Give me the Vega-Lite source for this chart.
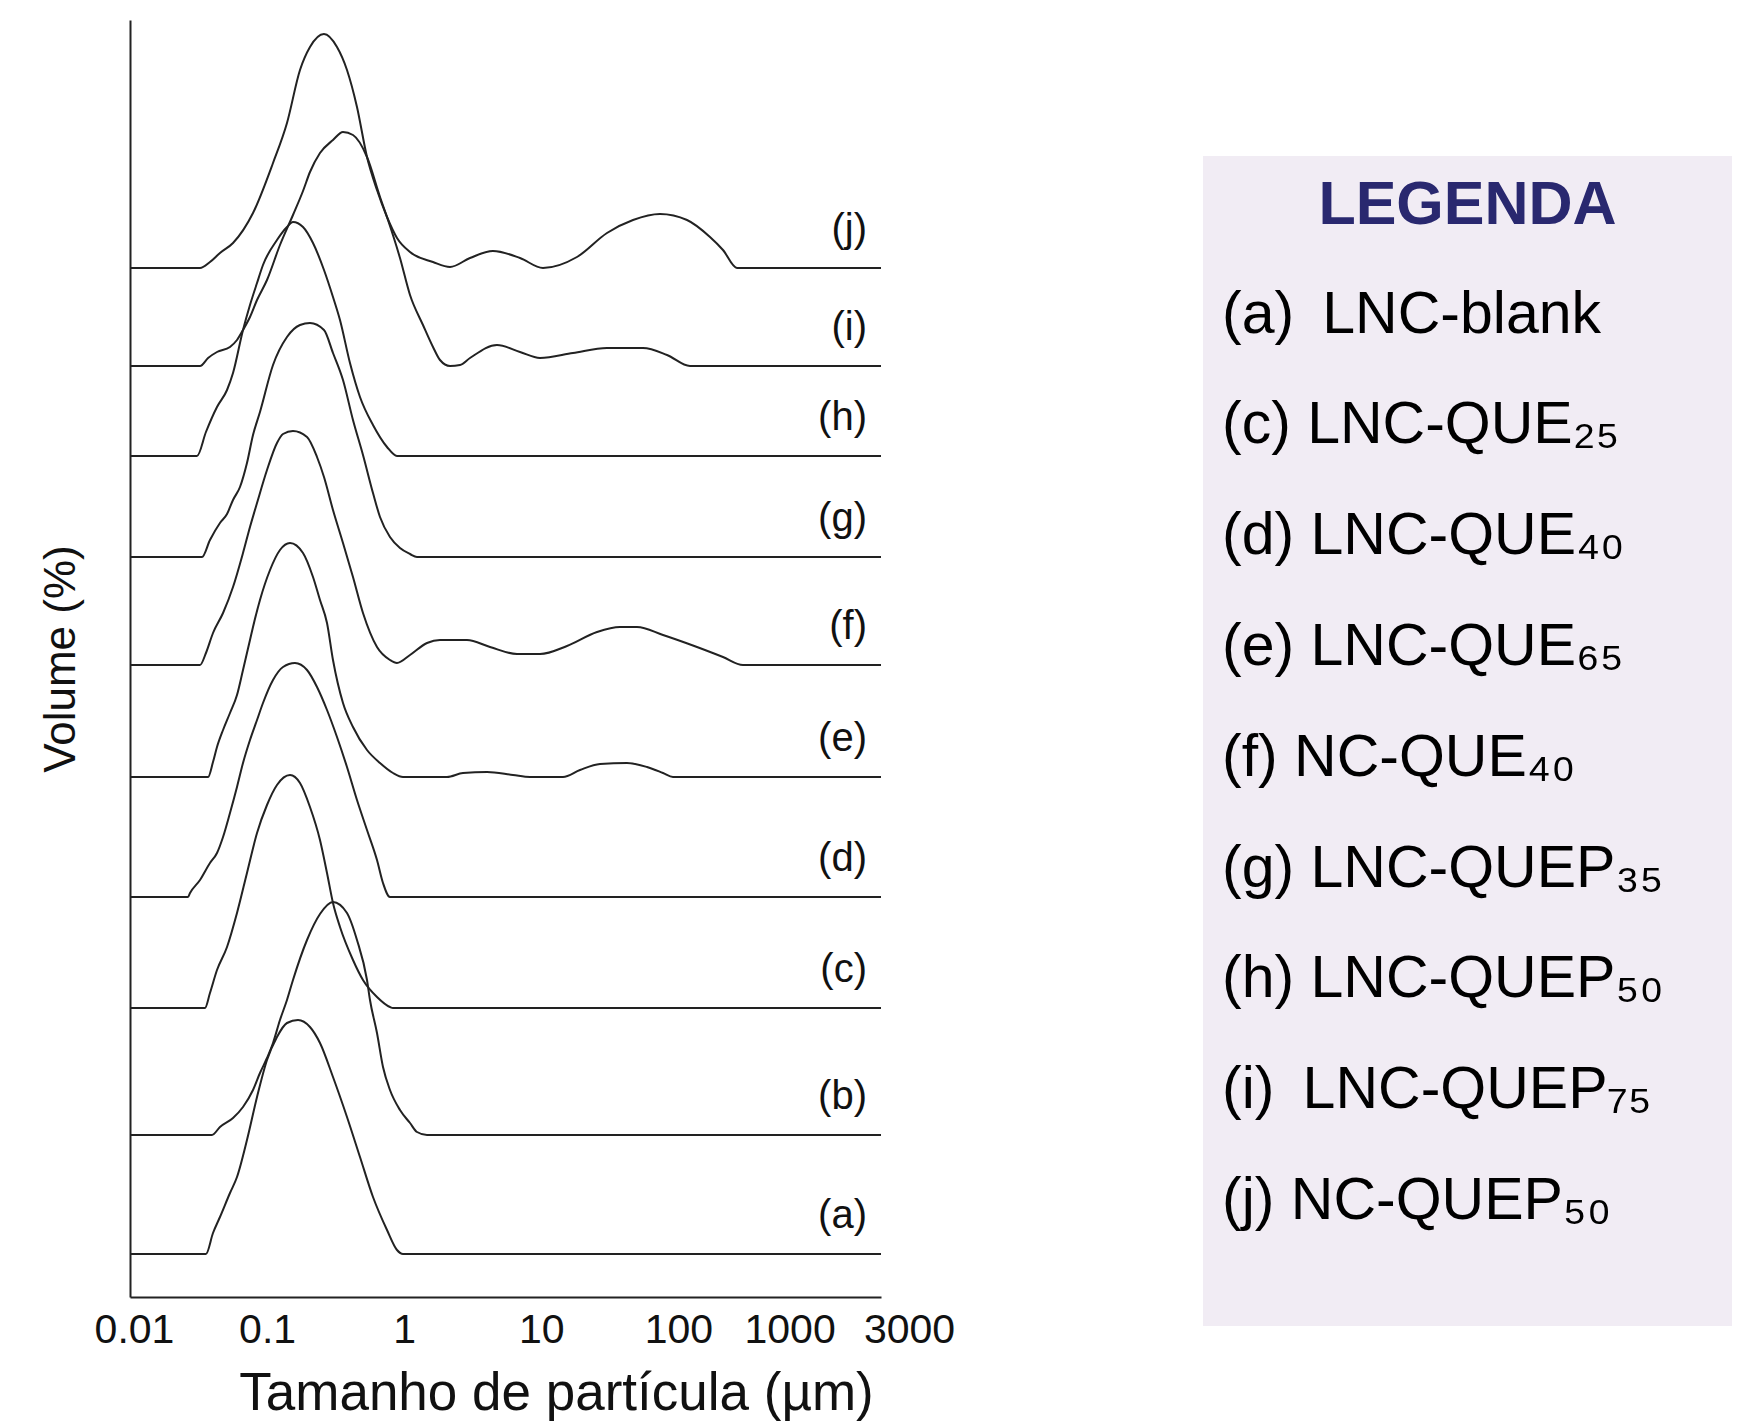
{
  "$schema": "https://vega.github.io/schema/vega-lite/v6.json",
  "padding": {"left": 39, "top": 20, "right": 5, "bottom": 5},
  "bounds": "flush",
  "spacing": 322,
  "config": {"view": {"stroke": null}, "font": "Liberation Sans"},
  "datasets": {
    "curves": [
      {"curve":"(a)","size":0.01,"volume":43},{"curve":"(a)","size":0.0358,"volume":43},{"curve":"(a)","size":0.0403,"volume":64},{"curve":"(a)","size":0.0453,"volume":80},{"curve":"(a)","size":0.0536,"volume":104},{"curve":"(a)","size":0.0603,"volume":120},{"curve":"(a)","size":0.0713,"volume":157},{"curve":"(a)","size":0.0844,"volume":200},{"curve":"(a)","size":0.0998,"volume":237},{"curve":"(a)","size":0.118,"volume":260},{"curve":"(a)","size":0.1396,"volume":274},{"curve":"(a)","size":0.168,"volume":277},{"curve":"(a)","size":0.2054,"volume":270},{"curve":"(a)","size":0.243,"volume":254},{"curve":"(a)","size":0.3023,"volume":220},{"curve":"(a)","size":0.3824,"volume":180},{"curve":"(a)","size":0.4757,"volume":140},{"curve":"(a)","size":0.5918,"volume":100},{"curve":"(a)","size":0.7488,"volume":67},{"curve":"(a)","size":0.8856,"volume":47},{"curve":"(a)","size":0.9795,"volume":43},{"curve":"(a)","size":3000,"volume":43},
      {"curve":"(b)","size":0.01,"volume":162},{"curve":"(b)","size":0.0396,"volume":162},{"curve":"(b)","size":0.0453,"volume":170},{"curve":"(b)","size":0.0564,"volume":179},{"curve":"(b)","size":0.0667,"volume":190},{"curve":"(b)","size":0.0789,"volume":207},{"curve":"(b)","size":0.0887,"volume":224},{"curve":"(b)","size":0.0998,"volume":239},{"curve":"(b)","size":0.1104,"volume":254},{"curve":"(b)","size":0.1241,"volume":277},{"curve":"(b)","size":0.1396,"volume":297},{"curve":"(b)","size":0.1544,"volume":317},{"curve":"(b)","size":0.1954,"volume":357},{"curve":"(b)","size":0.243,"volume":383},{"curve":"(b)","size":0.3023,"volume":395},{"curve":"(b)","size":0.3824,"volume":384},{"curve":"(b)","size":0.4523,"volume":357},{"curve":"(b)","size":0.5351,"volume":317},{"curve":"(b)","size":0.5627,"volume":297},{"curve":"(b)","size":0.6329,"volume":264},{"curve":"(b)","size":0.7001,"volume":230},{"curve":"(b)","size":0.7871,"volume":207},{"curve":"(b)","size":0.9313,"volume":187},{"curve":"(b)","size":1.102,"volume":174},{"curve":"(b)","size":1.239,"volume":165},{"curve":"(b)","size":1.466,"volume":162},{"curve":"(b)","size":3000,"volume":162},
      {"curve":"(c)","size":0.01,"volume":289},{"curve":"(c)","size":0.0352,"volume":289},{"curve":"(c)","size":0.0383,"volume":304},{"curve":"(c)","size":0.0431,"volume":327},{"curve":"(c)","size":0.051,"volume":350},{"curve":"(c)","size":0.0603,"volume":384},{"curve":"(c)","size":0.0713,"volume":424},{"curve":"(c)","size":0.0844,"volume":464},{"curve":"(c)","size":0.0998,"volume":492},{"curve":"(c)","size":0.118,"volume":512},{"curve":"(c)","size":0.1469,"volume":522},{"curve":"(c)","size":0.1737,"volume":514},{"curve":"(c)","size":0.2054,"volume":490},{"curve":"(c)","size":0.243,"volume":457},{"curve":"(c)","size":0.2734,"volume":424},{"curve":"(c)","size":0.3023,"volume":394},{"curve":"(c)","size":0.34,"volume":370},{"curve":"(c)","size":0.4229,"volume":337},{"curve":"(c)","size":0.5003,"volume":317},{"curve":"(c)","size":0.6329,"volume":300},{"curve":"(c)","size":0.7871,"volume":290},{"curve":"(c)","size":0.8279,"volume":289},{"curve":"(c)","size":3000,"volume":289},
      {"curve":"(d)","size":0.01,"volume":400},{"curve":"(d)","size":0.0265,"volume":400},{"curve":"(d)","size":0.0274,"volume":404},{"curve":"(d)","size":0.0324,"volume":417},{"curve":"(d)","size":0.0383,"volume":434},{"curve":"(d)","size":0.0431,"volume":444},{"curve":"(d)","size":0.0477,"volume":460},{"curve":"(d)","size":0.0536,"volume":484},{"curve":"(d)","size":0.0603,"volume":510},{"curve":"(d)","size":0.0667,"volume":534},{"curve":"(d)","size":0.075,"volume":557},{"curve":"(d)","size":0.0844,"volume":577},{"curve":"(d)","size":0.0933,"volume":594},{"curve":"(d)","size":0.1104,"volume":617},{"curve":"(d)","size":0.1306,"volume":630},{"curve":"(d)","size":0.1597,"volume":634},{"curve":"(d)","size":0.1954,"volume":627},{"curve":"(d)","size":0.2311,"volume":610},{"curve":"(d)","size":0.2734,"volume":587},{"curve":"(d)","size":0.3233,"volume":560},{"curve":"(d)","size":0.3824,"volume":530},{"curve":"(d)","size":0.4523,"volume":497},{"curve":"(d)","size":0.5351,"volume":467},{"curve":"(d)","size":0.6329,"volume":437},{"curve":"(d)","size":0.7001,"volume":414},{"curve":"(d)","size":0.7871,"volume":400},{"curve":"(d)","size":3000,"volume":400},
      {"curve":"(e)","size":0.01,"volume":520},{"curve":"(e)","size":0.0371,"volume":520},{"curve":"(e)","size":0.0403,"volume":535},{"curve":"(e)","size":0.0431,"volume":550},{"curve":"(e)","size":0.0477,"volume":567},{"curve":"(e)","size":0.0536,"volume":584},{"curve":"(e)","size":0.0603,"volume":602},{"curve":"(e)","size":0.0667,"volume":627},{"curve":"(e)","size":0.075,"volume":657},{"curve":"(e)","size":0.0789,"volume":670},{"curve":"(e)","size":0.0887,"volume":697},{"curve":"(e)","size":0.105,"volume":727},{"curve":"(e)","size":0.1241,"volume":747},{"curve":"(e)","size":0.1469,"volume":754},{"curve":"(e)","size":0.1827,"volume":744},{"curve":"(e)","size":0.2161,"volume":720},{"curve":"(e)","size":0.243,"volume":697},{"curve":"(e)","size":0.2734,"volume":674},{"curve":"(e)","size":0.3023,"volume":637},{"curve":"(e)","size":0.3576,"volume":594},{"curve":"(e)","size":0.4229,"volume":570},{"curve":"(e)","size":0.5351,"volume":547},{"curve":"(e)","size":0.6657,"volume":534},{"curve":"(e)","size":0.8279,"volume":524},{"curve":"(e)","size":0.9795,"volume":520},{"curve":"(e)","size":2.051,"volume":520},{"curve":"(e)","size":2.683,"volume":524},{"curve":"(e)","size":4.015,"volume":525},{"curve":"(e)","size":6.213,"volume":522},{"curve":"(e)","size":8.263,"volume":520},{"curve":"(e)","size":14.38,"volume":520},{"curve":"(e)","size":19.13,"volume":527},{"curve":"(e)","size":26.77,"volume":533},{"curve":"(e)","size":42.13,"volume":534},{"curve":"(e)","size":58.94,"volume":530},{"curve":"(e)","size":77.13,"volume":524},{"curve":"(e)","size":91.2,"volume":520},{"curve":"(e)","size":3000,"volume":520},
      {"curve":"(f)","size":0.01,"volume":632},{"curve":"(f)","size":0.0324,"volume":632},{"curve":"(f)","size":0.0358,"volume":644},{"curve":"(f)","size":0.0403,"volume":664},{"curve":"(f)","size":0.0477,"volume":684},{"curve":"(f)","size":0.0564,"volume":710},{"curve":"(f)","size":0.0667,"volume":744},{"curve":"(f)","size":0.075,"volume":770},{"curve":"(f)","size":0.0844,"volume":794},{"curve":"(f)","size":0.0998,"volume":827},{"curve":"(f)","size":0.118,"volume":854},{"curve":"(f)","size":0.1306,"volume":863},{"curve":"(f)","size":0.1544,"volume":866},{"curve":"(f)","size":0.1954,"volume":860},{"curve":"(f)","size":0.2311,"volume":840},{"curve":"(f)","size":0.2599,"volume":820},{"curve":"(f)","size":0.3023,"volume":787},{"curve":"(f)","size":0.3576,"volume":754},{"curve":"(f)","size":0.4229,"volume":720},{"curve":"(f)","size":0.5003,"volume":684},{"curve":"(f)","size":0.6329,"volume":650},{"curve":"(f)","size":0.7871,"volume":637},{"curve":"(f)","size":0.8856,"volume":634},{"curve":"(f)","size":1.102,"volume":642},{"curve":"(f)","size":1.466,"volume":654},{"curve":"(f)","size":1.823,"volume":657},{"curve":"(f)","size":2.869,"volume":657},{"curve":"(f)","size":4.222,"volume":650},{"curve":"(f)","size":6.644,"volume":643},{"curve":"(f)","size":9.774,"volume":643},{"curve":"(f)","size":15.38,"volume":651},{"curve":"(f)","size":25.46,"volume":665},{"curve":"(f)","size":37.46,"volume":670},{"curve":"(f)","size":49.84,"volume":670},{"curve":"(f)","size":77.13,"volume":662},{"curve":"(f)","size":136.5,"volume":650},{"curve":"(f)","size":211.2,"volume":640},{"curve":"(f)","size":295.5,"volume":632},{"curve":"(f)","size":3000,"volume":632},
      {"curve":"(g)","size":0.01,"volume":740},{"curve":"(g)","size":0.0335,"volume":740},{"curve":"(g)","size":0.0383,"volume":757},{"curve":"(g)","size":0.0453,"volume":774},{"curve":"(g)","size":0.051,"volume":783},{"curve":"(g)","size":0.0564,"volume":797},{"curve":"(g)","size":0.0634,"volume":810},{"curve":"(g)","size":0.0713,"volume":834},{"curve":"(g)","size":0.0789,"volume":862},{"curve":"(g)","size":0.0887,"volume":885},{"curve":"(g)","size":0.1104,"volume":932},{"curve":"(g)","size":0.1396,"volume":960},{"curve":"(g)","size":0.1737,"volume":972},{"curve":"(g)","size":0.2054,"volume":974},{"curve":"(g)","size":0.2599,"volume":967},{"curve":"(g)","size":0.3023,"volume":944},{"curve":"(g)","size":0.3576,"volume":917},{"curve":"(g)","size":0.4229,"volume":877},{"curve":"(g)","size":0.5003,"volume":842},{"curve":"(g)","size":0.5918,"volume":804},{"curve":"(g)","size":0.6657,"volume":780},{"curve":"(g)","size":0.7871,"volume":760},{"curve":"(g)","size":0.9313,"volume":749},{"curve":"(g)","size":1.102,"volume":743},{"curve":"(g)","size":1.239,"volume":740},{"curve":"(g)","size":3000,"volume":740},
      {"curve":"(h)","size":0.01,"volume":841},{"curve":"(h)","size":0.0308,"volume":841},{"curve":"(h)","size":0.0358,"volume":865},{"curve":"(h)","size":0.0431,"volume":890},{"curve":"(h)","size":0.051,"volume":907},{"curve":"(h)","size":0.0564,"volume":924},{"curve":"(h)","size":0.0667,"volume":967},{"curve":"(h)","size":0.075,"volume":992},{"curve":"(h)","size":0.0844,"volume":1014},{"curve":"(h)","size":0.0933,"volume":1032},{"curve":"(h)","size":0.118,"volume":1057},{"curve":"(h)","size":0.1396,"volume":1070},{"curve":"(h)","size":0.1544,"volume":1075},{"curve":"(h)","size":0.1827,"volume":1070},{"curve":"(h)","size":0.2161,"volume":1054},{"curve":"(h)","size":0.2599,"volume":1027},{"curve":"(h)","size":0.3023,"volume":1000},{"curve":"(h)","size":0.34,"volume":977},{"curve":"(h)","size":0.4021,"volume":934},{"curve":"(h)","size":0.4757,"volume":900},{"curve":"(h)","size":0.5918,"volume":872},{"curve":"(h)","size":0.7488,"volume":850},{"curve":"(h)","size":0.8856,"volume":841},{"curve":"(h)","size":3000,"volume":841},
      {"curve":"(i)","size":0.01,"volume":931},{"curve":"(i)","size":0.0324,"volume":931},{"curve":"(i)","size":0.0371,"volume":939},{"curve":"(i)","size":0.0431,"volume":945},{"curve":"(i)","size":0.0536,"volume":950},{"curve":"(i)","size":0.0603,"volume":957},{"curve":"(i)","size":0.0667,"volume":967},{"curve":"(i)","size":0.075,"volume":980},{"curve":"(i)","size":0.0844,"volume":997},{"curve":"(i)","size":0.0998,"volume":1017},{"curve":"(i)","size":0.1241,"volume":1052},{"curve":"(i)","size":0.1544,"volume":1082},{"curve":"(i)","size":0.1827,"volume":1106},{"curve":"(i)","size":0.2054,"volume":1125},{"curve":"(i)","size":0.243,"volume":1144},{"curve":"(i)","size":0.3023,"volume":1157},{"curve":"(i)","size":0.3576,"volume":1165},{"curve":"(i)","size":0.4229,"volume":1162},{"curve":"(i)","size":0.5351,"volume":1140},{"curve":"(i)","size":0.6657,"volume":1100},{"curve":"(i)","size":0.7488,"volume":1080},{"curve":"(i)","size":0.9313,"volume":1039},{"curve":"(i)","size":1.102,"volume":1002},{"curve":"(i)","size":1.37,"volume":972},{"curve":"(i)","size":1.621,"volume":950},{"curve":"(i)","size":1.823,"volume":937},{"curve":"(i)","size":2.157,"volume":931},{"curve":"(i)","size":2.551,"volume":932},{"curve":"(i)","size":3.017,"volume":939},{"curve":"(i)","size":4.748,"volume":952},{"curve":"(i)","size":6.987,"volume":945},{"curve":"(i)","size":9.774,"volume":939},{"curve":"(i)","size":17.01,"volume":944},{"curve":"(i)","size":30.11,"volume":949},{"curve":"(i)","size":55.12,"volume":949},{"curve":"(i)","size":82.49,"volume":942},{"curve":"(i)","size":121.3,"volume":931},{"curve":"(i)","size":3000,"volume":931},
      {"curve":"(j)","size":0.01,"volume":1029},{"curve":"(j)","size":0.0324,"volume":1029},{"curve":"(j)","size":0.0383,"volume":1035},{"curve":"(j)","size":0.0453,"volume":1044},{"curve":"(j)","size":0.0564,"volume":1054},{"curve":"(j)","size":0.0789,"volume":1084},{"curve":"(j)","size":0.1104,"volume":1134},{"curve":"(j)","size":0.1396,"volume":1174},{"curve":"(j)","size":0.1737,"volume":1227},{"curve":"(j)","size":0.2054,"volume":1250},{"curve":"(j)","size":0.2599,"volume":1263},{"curve":"(j)","size":0.3233,"volume":1250},{"curve":"(j)","size":0.3824,"volume":1227},{"curve":"(j)","size":0.4523,"volume":1190},{"curve":"(j)","size":0.5351,"volume":1140},{"curve":"(j)","size":0.6329,"volume":1107},{"curve":"(j)","size":0.7488,"volume":1080},{"curve":"(j)","size":0.8856,"volume":1059},{"curve":"(j)","size":1.102,"volume":1045},{"curve":"(j)","size":1.621,"volume":1035},{"curve":"(j)","size":2.157,"volume":1030},{"curve":"(j)","size":3.017,"volume":1039},{"curve":"(j)","size":4.439,"volume":1046},{"curve":"(j)","size":6.987,"volume":1039},{"curve":"(j)","size":10.28,"volume":1029},{"curve":"(j)","size":18.19,"volume":1040},{"curve":"(j)","size":30.11,"volume":1064},{"curve":"(j)","size":46.61,"volume":1077},{"curve":"(j)","size":73.33,"volume":1083},{"curve":"(j)","size":115.4,"volume":1077},{"curve":"(j)","size":169.8,"volume":1060},{"curve":"(j)","size":211.2,"volume":1047},{"curve":"(j)","size":267.2,"volume":1029},{"curve":"(j)","size":3000,"volume":1029}
    ],
    "legend": [
      {"row": 0, "text": "LEGENDA"},
      {"row": 1, "text": "(a) \u2009LNC-blank"},
      {"row": 2, "text": "(c) LNC-QUE\u2082\u2085"},
      {"row": 3, "text": "(d) LNC-QUE\u2084\u2080"},
      {"row": 4, "text": "(e) LNC-QUE\u2086\u2085"},
      {"row": 5, "text": "(f) NC-QUE\u2084\u2080"},
      {"row": 6, "text": "(g) LNC-QUEP\u2083\u2085"},
      {"row": 7, "text": "(h) LNC-QUEP\u2085\u2080"},
      {"row": 8, "text": "(i) \u2009LNC-QUEP\u2087\u2085"},
      {"row": 9, "text": "\u00a0(j) NC-QUEP\u2085\u2080"}
    ]
  },
  "hconcat": [
    {
      "width": 751,
      "height": 1277,
      "data": {"name": "curves"},
      "layer": [
        {
          "mark": {"type": "line", "interpolate": "monotone", "color": "#222222", "strokeWidth": 2},
          "encoding": {
            "x": {
              "field": "size", "type": "quantitative",
              "scale": {"type": "log", "domain": [0.01, 3000], "nice": false},
              "axis": {
                "values": [0.01, 0.1, 1, 10, 100, 1000, 3000],
                "format": "~g",
                "ticks": false, "grid": false,
                "domainColor": "#222222", "domainWidth": 2,
                "labelFontSize": 41, "labelColor": "#111111", "labelPadding": 13,
                "labelOverlap": false, "labelBound": false, "labelFlush": false,
                "labelOffset": {"condition": [{"test": "datum.value == 1000", "value": -26}, {"test": "datum.value == 3000", "value": 28}, {"test": "datum.value == 0.01", "value": 4}], "value": 0},
                "title": "Tamanho de partícula (µm)",
                "titleFontSize": 53, "titleFontWeight": "normal", "titleColor": "#111111",
                "titlePadding": 17, "titleX": 426
              }
            },
            "y": {
              "field": "volume", "type": "quantitative",
              "scale": {"domain": [0, 1277], "nice": false, "zero": false},
              "axis": {
                "ticks": false, "labels": false, "grid": false,
                "domainColor": "#222222", "domainWidth": 2,
                "title": "Volume (%)",
                "titleFontSize": 44, "titleFontWeight": "normal", "titleColor": "#111111",
                "titlePadding": 47
              }
            },
            "detail": {"field": "curve"}
          }
        },
        {
          "transform": [{"filter": "datum.size == 3000"}],
          "mark": {"type": "text", "align": "right", "baseline": "middle", "dx": -14, "dy": -38, "fontSize": 40, "color": "#111111"},
          "encoding": {
            "x": {"field": "size", "type": "quantitative"},
            "y": {"field": "volume", "type": "quantitative"},
            "text": {"field": "curve"}
          }
        }
      ]
    },
    {
      "spacing": 0,
      "vconcat": [
        {"width": 529, "height": 136, "data": {"values": []}, "mark": "point"},
        {
          "width": 529,
          "height": 1170,
          "view": {"fill": "#f1ecf4", "stroke": null},
          "data": {"name": "legend"},
          "encoding": {
            "y": {"field": "row", "type": "ordinal", "scale": {"type": "point", "padding": 0.78, "align": 0.2766}, "axis": null}
          },
          "layer": [
            {
              "transform": [{"filter": "datum.row == 0"}],
              "mark": {"type": "text", "align": "center", "baseline": "middle", "dy": 2, "fontSize": 61, "fontWeight": "bold", "color": "#29286f"},
              "encoding": {
                "x": {"datum": 0.5, "type": "quantitative", "scale": {"domain": [0, 1]}, "axis": null},
                "text": {"field": "text"}
              }
            },
            {
              "transform": [{"filter": "datum.row > 0"}],
              "mark": {"type": "text", "align": "left", "baseline": "middle", "fontSize": 59, "dx": 19, "color": "#000000"},
              "encoding": {
                "x": {"datum": 0, "type": "quantitative", "scale": {"domain": [0, 1]}, "axis": null},
                "text": {"field": "text"}
              }
            }
          ]
        }
      ]
    }
  ]
}
